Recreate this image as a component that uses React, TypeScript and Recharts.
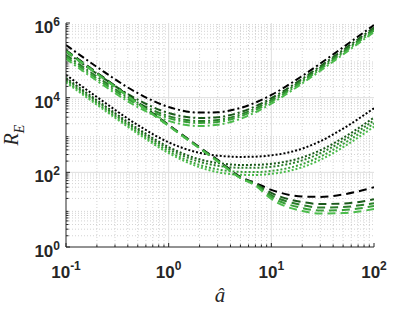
import React from 'react';
import { LineChart, Line, XAxis, YAxis, ReferenceLine } from 'recharts';

// sample positions of a-hat shared by all curves
const aHat = [0.1, 0.2, 0.5, 1, 2, 3, 5, 7, 10, 20, 30, 50, 100];

// dash-dot family (black -> light green)
const dashDotK = [257000, 66500, 13200, 5630, 3990, 4070, 5300, 7360, 11800, 38200, 82200, 223000, 883000];
const dashDotG1 = [169000, 43900, 8840, 3890, 2860, 3000, 4080, 5850, 9660, 32100, 69600, 190000, 752000];
const dashDotG2 = [141000, 36500, 7330, 3210, 2370, 2530, 3530, 5160, 8660, 29400, 63900, 174000, 692000];
const dashDotG3 = [124500, 32300, 6470, 2830, 2100, 2240, 3160, 4650, 7850, 26700, 58200, 159000, 632000];
const dashDotG4 = [110000, 28400, 5600, 2390, 1740, 1880, 2710, 4060, 6960, 24100, 52600, 144000, 571000];

// dotted family
const dottedK = [40700, 10400, 1850, 636, 333, 280, 259, 263, 284, 431, 680, 1480, 5230];
const dottedG1 = [33800, 8560, 1490, 475, 223, 178, 158, 159, 169, 251, 390, 838, 2940];
const dottedG2 = [30800, 7790, 1340, 421, 192, 150, 132, 132, 141, 209, 325, 701, 2460];
const dottedG3 = [28000, 7060, 1200, 366, 158, 120, 103, 102, 109, 166, 263, 575, 2040];
const dottedG4 = [25600, 6450, 1090, 327, 137, 101, 86, 85, 91, 137, 216, 472, 1670];

// dashed family
const dashedK = [186000, 46500, 7440, 1860, 468, 215, 75, 52, 34, 22.5, 22, 25.5, 40];
const dashedG1 = [183000, 45800, 7330, 1830, 460, 210, 73, 50, 28, 16, 14.2, 14.6, 18.9];
const dashedG2 = [180000, 45000, 7200, 1800, 452, 205, 72, 48, 24.7, 13.3, 11.4, 11.8, 14.8];
const dashedG3 = [177000, 44300, 7080, 1770, 445, 200, 71, 46, 21.8, 11.1, 9.5, 9.8, 12.5];
const dashedG4 = [174000, 43500, 6960, 1740, 437, 196, 70, 44, 19.3, 9.2, 7.9, 8.1, 10.4];

const xMajor = [0.1, 1, 10, 100];
const yMajor = [1, 1e2, 1e4, 1e6];

const shades = ['#000000', '#1b591b', '#2a7f2a', '#38a038', '#4cbc4c'];
const AXIS = '#262626';
const FONT = '"Liberation Sans", Arial, sans-serif';

const DASH_DOT = '7 3 2 3';
const DOTTED = '2 2';
const DASHED = '8 5';

const minorsBetween = (lo: number, hi: number) => {
  const out: number[] = [];
  for (let k = Math.round(Math.log10(lo)); k < Math.round(Math.log10(hi)); k++) {
    for (let m = 2; m <= 9; m++) out.push(Number((m * Math.pow(10, k)).toPrecision(3)));
  }
  return out;
};

const xMinor = minorsBetween(0.1, 100);
const yMinor = minorsBetween(1, 1e6);
const xTicks = [...xMajor, ...xMinor].sort((a, b) => a - b);
const yTicks = [...yMajor, ...yMinor].sort((a, b) => a - b);

const toRows = (vals: number[]) => aHat.map((a, i) => ({ a, v: vals[i] }));

const series = [
  { vals: dashDotK, color: shades[0], dash: DASH_DOT },
  { vals: dashDotG1, color: shades[1], dash: DASH_DOT },
  { vals: dashDotG2, color: shades[2], dash: DASH_DOT },
  { vals: dashDotG3, color: shades[3], dash: DASH_DOT },
  { vals: dashDotG4, color: shades[4], dash: DASH_DOT },
  { vals: dottedK, color: shades[0], dash: DOTTED },
  { vals: dottedG1, color: shades[1], dash: DOTTED },
  { vals: dottedG2, color: shades[2], dash: DOTTED },
  { vals: dottedG3, color: shades[3], dash: DOTTED },
  { vals: dottedG4, color: shades[4], dash: DOTTED },
  { vals: dashedK, color: shades[0], dash: DASHED },
  { vals: dashedG1, color: shades[1], dash: DASHED },
  { vals: dashedG2, color: shades[2], dash: DASHED },
  { vals: dashedG3, color: shades[3], dash: DASHED },
  { vals: dashedG4, color: shades[4], dash: DASHED },
];

const isMajor = (v: number) => Math.abs(Math.log10(v) - Math.round(Math.log10(v))) < 1e-6;

const BottomTick = ({ x, y, payload }: any) => {
  const v = payload.value;
  const major = isMajor(v);
  return (
    <g>
      <line x1={x} x2={x} y1={y} y2={y - (major ? 4 : 2.5)} stroke={AXIS} />
      {major && (
        <text x={x} y={y + 31} textAnchor="middle" fontFamily={FONT} fontWeight="bold" fontSize={17} fill={AXIS}>
          10<tspan dy={-8} fontSize={12}>{Math.round(Math.log10(v))}</tspan>
        </text>
      )}
    </g>
  );
};

const LeftTick = ({ x, y, payload }: any) => {
  const v = payload.value;
  const major = isMajor(v);
  return (
    <g>
      <line x1={x} x2={x + (major ? 4 : 2.5)} y1={y} y2={y} stroke={AXIS} />
      {major && (
        <text x={x - 6} y={y + 10} textAnchor="end" fontFamily={FONT} fontWeight="bold" fontSize={17} fill={AXIS}>
          10<tspan dy={-7} fontSize={12}>{Math.round(Math.log10(v))}</tspan>
        </text>
      )}
    </g>
  );
};

const TopTick = ({ x, y, payload }: any) => (
  <line x1={x} x2={x} y1={y} y2={y + (isMajor(payload.value) ? 4 : 2.5)} stroke={AXIS} />
);

const RightTick = ({ x, y, payload }: any) => (
  <line x1={x} x2={x - (isMajor(payload.value) ? 4 : 2.5)} y1={y} y2={y} stroke={AXIS} />
);

export default function App() {
  return (
    <div style={{ position: 'absolute', left: 0, top: 0, width: 414, height: 311, background: '#fff' }}>
      <LineChart width={414} height={311} margin={{ top: 23, right: 40, bottom: 0, left: 0 }}>
        <XAxis
          type="number" dataKey="a" scale="log" domain={[0.1, 100]} allowDataOverflow
          ticks={xTicks} interval={0} tickSize={0} tickMargin={0} tickLine={false}
          axisLine={{ stroke: AXIS }} height={64} tick={(p: any) => <BottomTick {...p} />}
        />
        <XAxis
          xAxisId="top" orientation="top" type="number" dataKey="a" scale="log" domain={[0.1, 100]} allowDataOverflow
          ticks={xTicks} interval={0} tickSize={0} tickMargin={0} tickLine={false}
          axisLine={{ stroke: AXIS }} height={0} tick={(p: any) => <TopTick {...p} />}
        />
        <YAxis
          type="number" scale="log" domain={[1, 1e6]} allowDataOverflow
          ticks={yTicks} interval={0} tickSize={0} tickMargin={0} tickLine={false}
          axisLine={{ stroke: AXIS }} width={66} tick={(p: any) => <LeftTick {...p} />}
        />
        <YAxis
          yAxisId="right" orientation="right" type="number" scale="log" domain={[1, 1e6]} allowDataOverflow
          ticks={yTicks} interval={0} tickSize={0} tickMargin={0} tickLine={false}
          axisLine={{ stroke: AXIS }} width={0} tick={(p: any) => <RightTick {...p} />}
        />
        {xMinor.map((v) => (
          <ReferenceLine key={'xm' + v} x={v} stroke="#c8c8c8" strokeDasharray="1 2" strokeWidth={0.8} />
        ))}
        {yMinor.map((v) => (
          <ReferenceLine key={'ym' + v} y={v} stroke="#c8c8c8" strokeDasharray="1 2" strokeWidth={0.8} />
        ))}
        {xMajor.slice(1, -1).map((v) => (
          <ReferenceLine key={'xM' + v} x={v} stroke="#dedede" strokeWidth={1} />
        ))}
        {yMajor.slice(1, -1).map((v) => (
          <ReferenceLine key={'yM' + v} y={v} stroke="#dedede" strokeWidth={1} />
        ))}
        {series.map((s, i) => (
          <Line
            key={i}
            data={toRows(s.vals)}
            dataKey="v"
            type="monotone"
            stroke={s.color}
            strokeWidth={2}
            strokeDasharray={s.dash}
            dot={false}
            activeDot={false}
            isAnimationActive={false}
          />
        ))}
      </LineChart>
      <svg width={414} height={311} style={{ position: 'absolute', left: 0, top: 0, pointerEvents: 'none' }}>
        <text x={220} y={302} textAnchor="middle" fontFamily='"Liberation Serif", serif' fontStyle="italic" fontSize={21} fill={AXIS}>
          â
        </text>
        <text transform="translate(18,135) rotate(-90)" textAnchor="middle" fontFamily='"Liberation Serif", serif' fontStyle="italic" fontSize={20} fill={AXIS}>
          R<tspan dy={6} fontSize={14}>E</tspan>
        </text>
      </svg>
    </div>
  );
}
